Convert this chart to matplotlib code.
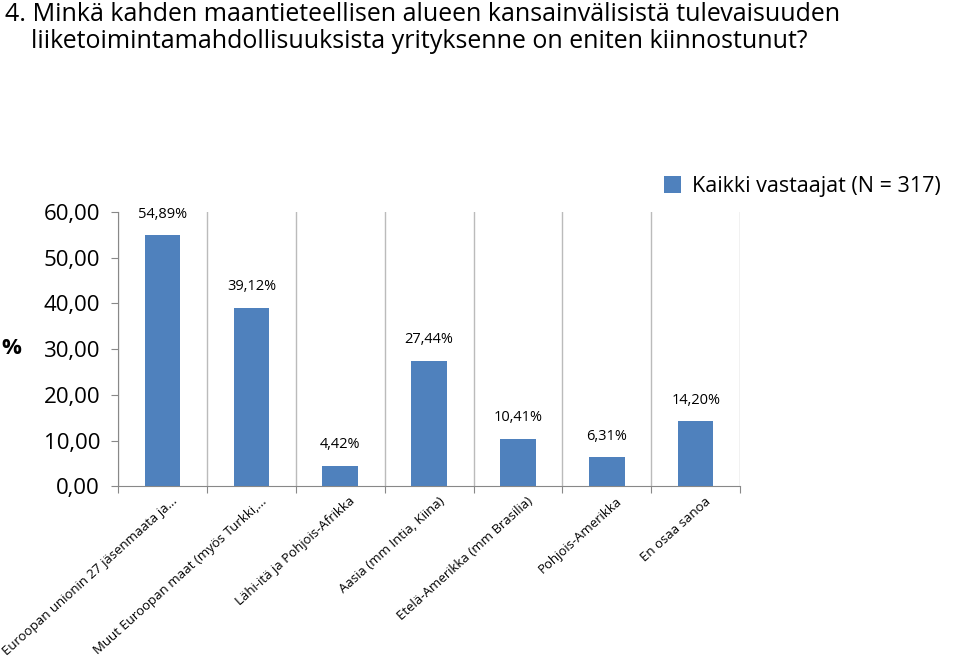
import matplotlib
matplotlib.use("Agg")
import matplotlib.pyplot as plt
import numpy as np

categories = ["Euroopan unionin 27 jäsenmaata ja…", "Muut Euroopan maat (myös Turkki,…",
              "Lähi-itä ja Pohjois-Afrikka", "Aasia (mm Intia, Kiina)",
              "Etelä-Amerikka (mm Brasilia)", "Pohjois-Amerikka", "En osaa sanoa"]
values = [54.89, 39.12, 4.42, 27.44, 10.41, 6.31, 14.20]
labels = ["54,89%", "39,12%", "4,42%", "27,44%", "10,41%", "6,31%", "14,20%"]
yticks = [0, 10, 20, 30, 40, 50, 60]
series_name = "Kaikki vastaajat (N = 317)"

plt.rcParams["font.family"] = "Open Sans"
fig = plt.figure(figsize=(9.6, 6.67), dpi=100)
ax = fig.add_axes([0.123, 0.271, 0.648, 0.411])
x = np.arange(len(categories))
ax.bar(x, values, width=0.4, color="#4F81BD", label=series_name, zorder=3)
for xi, v, l in zip(x, values, labels):
    ax.text(xi, v + 3, l, ha="center", va="bottom", fontsize=10.5)
ax.set_xlim(-0.5, len(categories) - 0.5)
ax.set_ylim(0, 60)
ax.set_yticks(yticks)
ax.set_yticklabels([f"{t:.2f}".replace(".", ",") for t in yticks], fontsize=16)
ax.set_xticks(np.arange(-0.5, len(categories)), minor=False)
ax.set_xticklabels([])
ax.set_xticks(x + 0.1, minor=True)
ax.set_xticklabels(categories, minor=True, rotation=42, ha="right", rotation_mode="anchor", fontsize=9.5)
ax.tick_params(axis="x", which="minor", length=0, pad=6)
ax.tick_params(axis="x", which="major", length=5, color="#888888")
ax.tick_params(axis="y", length=5, color="#888888", pad=8)
ax.grid(axis="x", which="major", color="#BBBBBB", linewidth=1, zorder=0)
for s in ["top", "right"]:
    ax.spines[s].set_visible(False)
for s in ["left", "bottom"]:
    ax.spines[s].set_color("#888888")
fig.text(0.012, 0.478, "%", fontsize=16, fontweight="bold", va="center", ha="center")
fig.text(0.005, 0.997, "4. Minkä kahden maantieteellisen alueen kansainvälisistä tulevaisuuden\n    liiketoimintamahdollisuuksista yrityksenne on eniten kiinnostunut?",
         fontsize=18, va="top", ha="left", linespacing=1.1)
fig.legend(loc="upper right", bbox_to_anchor=(1.0, 0.765), frameon=False, fontsize=15.5,
           handlelength=0.8, handleheight=0.8, handletextpad=0.5)
fig.savefig("out.png", dpi=100)
